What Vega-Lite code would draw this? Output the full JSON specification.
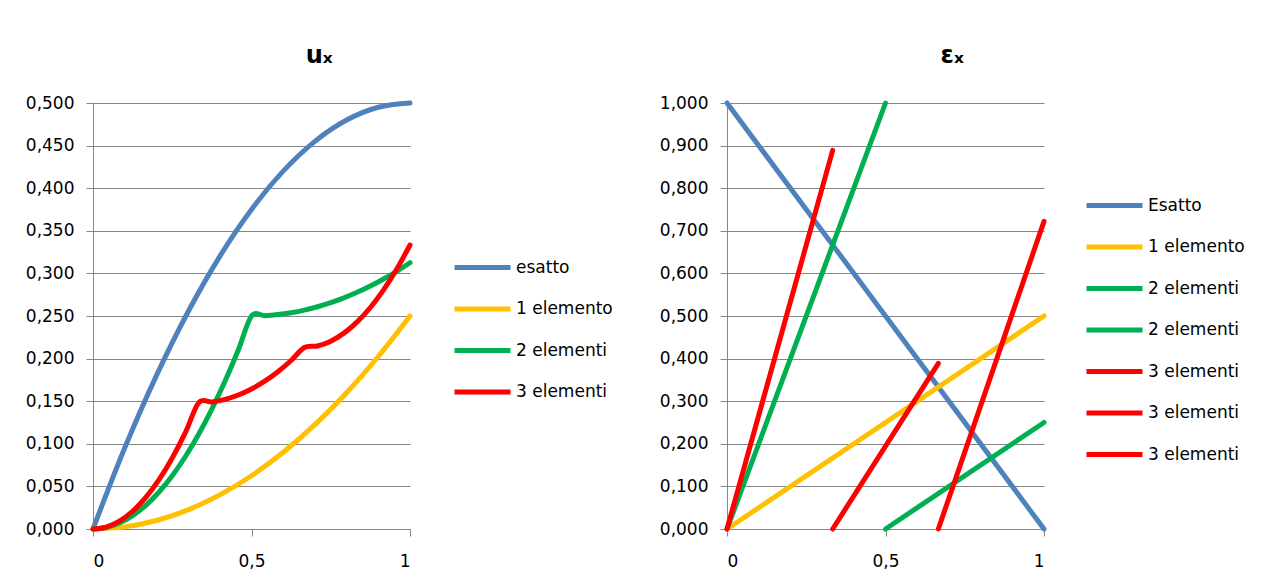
{
  "$schema": "https://vega.github.io/schema/vega-lite/v6.json",
  "background": "white",
  "padding": {"left": 25, "top": 44, "right": 5, "bottom": 5},
  "bounds": "flush",
  "spacing": 317,
  "config": {
    "font": "DejaVu Sans",
    "view": {"stroke": null},
    "axis": {
      "domainColor": "#868686",
      "tickColor": "#868686",
      "gridColor": "#868686",
      "domainWidth": 1,
      "gridWidth": 1,
      "tickWidth": 1,
      "labelFont": "DejaVu Sans",
      "labelFontSize": 17,
      "labelColor": "#000000",
      "tickSize": 7,
      "title": null
    },
    "legend": {
      "labelFont": "DejaVu Sans",
      "labelFontSize": 17,
      "labelColor": "#000000",
      "padding": 0,
      "rowPadding": 14.5,
      "labelOffset": 17,
      "symbolStrokeWidth": 5
    },
    "title": {
      "font": "DejaVu Sans",
      "fontSize": 24,
      "fontWeight": "bold",
      "color": "#000000",
      "anchor": "middle",
      "frame": "bounds",
      "offset": 26
    }
  },
  "datasets": {
    "ux": [
      {"x": 0, "u": 0, "s": "esatto"},
      {"x": 0.1, "u": 0.095, "s": "esatto"},
      {"x": 0.2, "u": 0.18, "s": "esatto"},
      {"x": 0.3, "u": 0.255, "s": "esatto"},
      {"x": 0.4, "u": 0.32, "s": "esatto"},
      {"x": 0.5, "u": 0.375, "s": "esatto"},
      {"x": 0.6, "u": 0.42, "s": "esatto"},
      {"x": 0.7, "u": 0.455, "s": "esatto"},
      {"x": 0.8, "u": 0.48, "s": "esatto"},
      {"x": 0.9, "u": 0.495, "s": "esatto"},
      {"x": 1, "u": 0.5, "s": "esatto"},
      {"x": 0, "u": 0, "s": "1 elemento"},
      {"x": 0.1, "u": 0.0025, "s": "1 elemento"},
      {"x": 0.2, "u": 0.01, "s": "1 elemento"},
      {"x": 0.3, "u": 0.0225, "s": "1 elemento"},
      {"x": 0.4, "u": 0.04, "s": "1 elemento"},
      {"x": 0.5, "u": 0.0625, "s": "1 elemento"},
      {"x": 0.6, "u": 0.09, "s": "1 elemento"},
      {"x": 0.7, "u": 0.1225, "s": "1 elemento"},
      {"x": 0.8, "u": 0.16, "s": "1 elemento"},
      {"x": 0.9, "u": 0.2025, "s": "1 elemento"},
      {"x": 1, "u": 0.25, "s": "1 elemento"},
      {"x": 0, "u": 0, "s": "2 elementi"},
      {"x": 0.041667, "u": 0.001736, "s": "2 elementi"},
      {"x": 0.083333, "u": 0.006944, "s": "2 elementi"},
      {"x": 0.125, "u": 0.015625, "s": "2 elementi"},
      {"x": 0.166667, "u": 0.027778, "s": "2 elementi"},
      {"x": 0.208333, "u": 0.043403, "s": "2 elementi"},
      {"x": 0.25, "u": 0.0625, "s": "2 elementi"},
      {"x": 0.291667, "u": 0.085069, "s": "2 elementi"},
      {"x": 0.333333, "u": 0.111111, "s": "2 elementi"},
      {"x": 0.375, "u": 0.140625, "s": "2 elementi"},
      {"x": 0.416667, "u": 0.173611, "s": "2 elementi"},
      {"x": 0.458333, "u": 0.210069, "s": "2 elementi"},
      {"x": 0.5, "u": 0.25, "s": "2 elementi"},
      {"x": 0.541667, "u": 0.250434, "s": "2 elementi"},
      {"x": 0.583333, "u": 0.251736, "s": "2 elementi"},
      {"x": 0.625, "u": 0.253906, "s": "2 elementi"},
      {"x": 0.666667, "u": 0.256944, "s": "2 elementi"},
      {"x": 0.708333, "u": 0.260851, "s": "2 elementi"},
      {"x": 0.75, "u": 0.265625, "s": "2 elementi"},
      {"x": 0.791667, "u": 0.271267, "s": "2 elementi"},
      {"x": 0.833333, "u": 0.277778, "s": "2 elementi"},
      {"x": 0.875, "u": 0.285156, "s": "2 elementi"},
      {"x": 0.916667, "u": 0.293403, "s": "2 elementi"},
      {"x": 0.958333, "u": 0.302517, "s": "2 elementi"},
      {"x": 1, "u": 0.3125, "s": "2 elementi"},
      {"x": 0, "u": 0, "s": "3 elementi"},
      {"x": 0.041667, "u": 0.002315, "s": "3 elementi"},
      {"x": 0.083333, "u": 0.009259, "s": "3 elementi"},
      {"x": 0.125, "u": 0.020833, "s": "3 elementi"},
      {"x": 0.166667, "u": 0.037037, "s": "3 elementi"},
      {"x": 0.208333, "u": 0.05787, "s": "3 elementi"},
      {"x": 0.25, "u": 0.083333, "s": "3 elementi"},
      {"x": 0.291667, "u": 0.113426, "s": "3 elementi"},
      {"x": 0.333333, "u": 0.148148, "s": "3 elementi"},
      {"x": 0.375, "u": 0.149161, "s": "3 elementi"},
      {"x": 0.416667, "u": 0.152199, "s": "3 elementi"},
      {"x": 0.458333, "u": 0.157263, "s": "3 elementi"},
      {"x": 0.5, "u": 0.164352, "s": "3 elementi"},
      {"x": 0.541667, "u": 0.173466, "s": "3 elementi"},
      {"x": 0.583333, "u": 0.184606, "s": "3 elementi"},
      {"x": 0.625, "u": 0.197772, "s": "3 elementi"},
      {"x": 0.666667, "u": 0.212963, "s": "3 elementi"},
      {"x": 0.708333, "u": 0.214844, "s": "3 elementi"},
      {"x": 0.75, "u": 0.220486, "s": "3 elementi"},
      {"x": 0.791667, "u": 0.22989, "s": "3 elementi"},
      {"x": 0.833333, "u": 0.243056, "s": "3 elementi"},
      {"x": 0.875, "u": 0.259983, "s": "3 elementi"},
      {"x": 0.916667, "u": 0.280671, "s": "3 elementi"},
      {"x": 0.958333, "u": 0.305122, "s": "3 elementi"},
      {"x": 1, "u": 0.333333, "s": "3 elementi"}
    ],
    "ex": [
      {"x": 0, "e": 1, "s": "Esatto"},
      {"x": 1, "e": 0, "s": "Esatto"},
      {"x": 0, "e": 0, "s": "1 elemento"},
      {"x": 1, "e": 0.5, "s": "1 elemento"},
      {"x": 0, "e": 0, "s": "2 elementi"},
      {"x": 0.5, "e": 1, "s": "2 elementi"},
      {"x": 0.5, "e": 0, "s": "2 elementi "},
      {"x": 1, "e": 0.25, "s": "2 elementi "},
      {"x": 0, "e": 0, "s": "3 elementi"},
      {"x": 0.333333, "e": 0.888889, "s": "3 elementi"},
      {"x": 0.333333, "e": 0, "s": "3 elementi "},
      {"x": 0.666667, "e": 0.388889, "s": "3 elementi "},
      {"x": 0.666667, "e": 0, "s": "3 elementi  "},
      {"x": 1, "e": 0.722222, "s": "3 elementi  "}
    ]
  },
  "hconcat": [
    {
      "width": 317,
      "height": 426,
      "title": {"text": "uₓ"},
      "data": {"name": "ux"},
      "mark": {"type": "line", "interpolate": "cardinal", "tension": 0, "strokeWidth": 5, "strokeCap": "round", "strokeJoin": "round"},
      "encoding": {
        "x": {
          "field": "x", "type": "quantitative",
          "scale": {"domain": [0, 1], "nice": false, "zero": false},
          "axis": {"values": [0, 0.5, 1], "grid": false, "labelPadding": 17, "labelExpr": "replace(format(datum.value, '~g'), '.', ',')"}
        },
        "y": {
          "field": "u", "type": "quantitative",
          "scale": {"domain": [0, 0.5], "nice": false},
          "axis": {"values": [0, 0.05, 0.1, 0.15, 0.2, 0.25, 0.3, 0.35, 0.4, 0.45, 0.5], "grid": true, "labelPadding": 12, "labelExpr": "replace(format(datum.value, '.3f'), '.', ',')"}
        },
        "color": {
          "field": "s", "type": "nominal",
          "scale": {"domain": ["esatto", "1 elemento", "2 elementi", "3 elementi"], "range": ["#4F81BD", "#FFC000", "#00B050", "#FF0000"]},
          "legend": {"title": null, "orient": "none", "legendX": 373, "legendY": 148, "symbolType": "M-2,0H2", "symbolSize": 784, "symbolStrokeWidth": 5}
        }
      }
    },
    {
      "width": 317,
      "height": 426,
      "title": {"text": "εₓ"},
      "data": {"name": "ex"},
      "mark": {"type": "line", "strokeWidth": 5, "strokeCap": "round", "strokeJoin": "round"},
      "encoding": {
        "x": {
          "field": "x", "type": "quantitative",
          "scale": {"domain": [0, 1], "nice": false, "zero": false},
          "axis": {"values": [0, 0.5, 1], "grid": false, "labelPadding": 17, "labelExpr": "replace(format(datum.value, '~g'), '.', ',')"}
        },
        "y": {
          "field": "e", "type": "quantitative",
          "scale": {"domain": [0, 1], "nice": false},
          "axis": {"values": [0, 0.1, 0.2, 0.3, 0.4, 0.5, 0.6, 0.7, 0.8, 0.9, 1], "grid": true, "labelPadding": 12, "labelExpr": "replace(format(datum.value, '.3f'), '.', ',')"}
        },
        "color": {
          "field": "s", "type": "nominal",
          "scale": {"domain": ["Esatto", "1 elemento", "2 elementi", "2 elementi ", "3 elementi", "3 elementi ", "3 elementi  "], "range": ["#4F81BD", "#FFC000", "#00B050", "#00B050", "#FF0000", "#FF0000", "#FF0000"]},
          "legend": {"title": null, "orient": "none", "legendX": 371, "legendY": 86, "symbolType": "M-2,0H2", "symbolSize": 784, "symbolStrokeWidth": 5}
        }
      }
    }
  ],
  "resolve": {"scale": {"color": "independent", "x": "independent", "y": "independent"}, "legend": {"color": "independent"}}
}
